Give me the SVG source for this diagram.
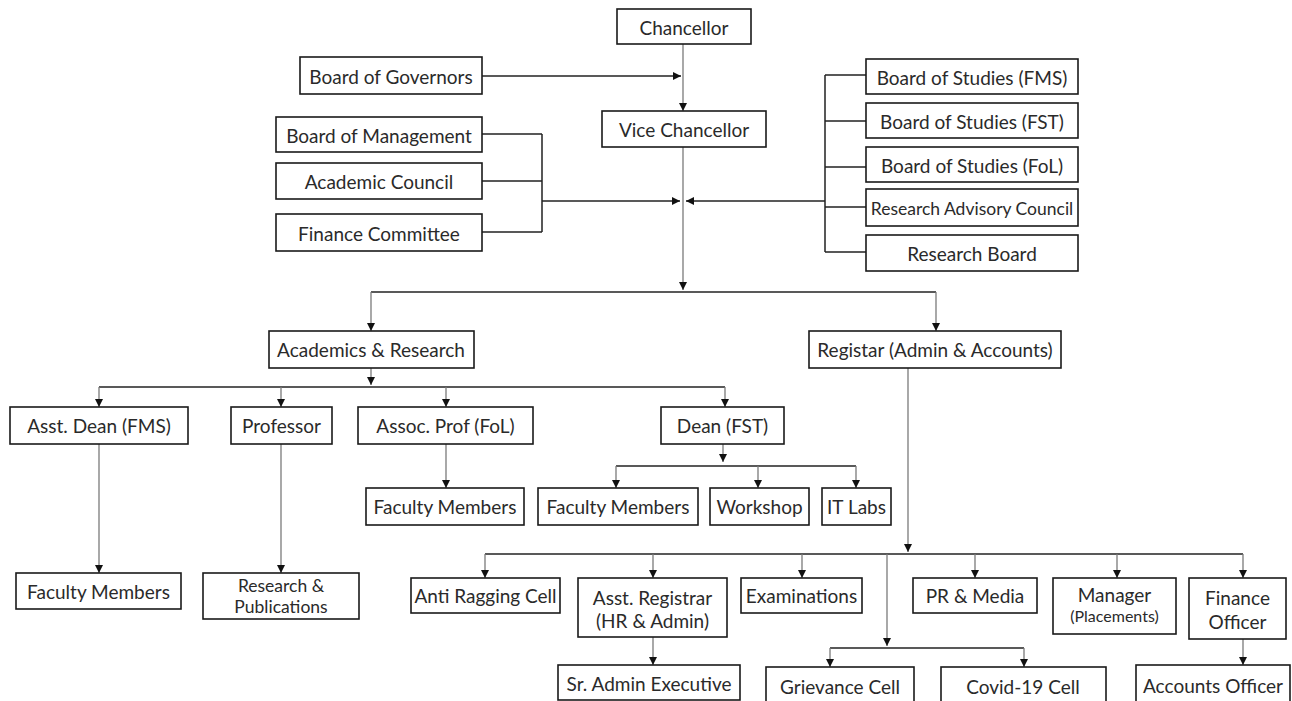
<svg xmlns="http://www.w3.org/2000/svg" width="1292" height="701" viewBox="0 0 1292 701">
<style>
.box{fill:#fff;stroke:#1a1a1a;stroke-width:1.6}
.t{font-family:"Lato","Open Sans","DejaVu Sans",sans-serif;font-size:19px;fill:#2a2a2a;text-anchor:middle;dominant-baseline:central}
.s{font-size:16px}
.m{font-size:17.5px}
.h{stroke:#222;stroke-width:1.5;fill:none}
.v{stroke:#7a7a7a;stroke-width:1.3;fill:none}
</style>
<defs>
<marker id="ah" viewBox="0 0 8 8" refX="8" refY="4" markerWidth="8" markerHeight="8" markerUnits="userSpaceOnUse" orient="auto">
<path d="M0,0 L8,4 L0,8 z" fill="#111"/>
</marker>
</defs>
<rect width="1292" height="701" fill="#fff"/>
<g id="connectors">
<path class="v" d="M683,44 V111" marker-end="url(#ah)"/>
<path class="h" d="M482,76 H681" marker-end="url(#ah)"/>
<path class="h" d="M482,134 H542 M482,181 H542 M482,232 H542 M542,134 V232"/>
<path class="h" d="M542,201 H680" marker-end="url(#ah)"/>
<path class="h" d="M866,75 H825 M866,121 H825 M866,167 H825 M866,207 H825 M866,252 H825 M825,75 V252"/>
<path class="h" d="M825,201 H686" marker-end="url(#ah)"/>
<path class="v" d="M683,147 V290" marker-end="url(#ah)"/>
<path class="h" d="M371,292 H936"/>
<path class="v" d="M371,292 V331" marker-end="url(#ah)"/>
<path class="v" d="M936,292 V331" marker-end="url(#ah)"/>
<path class="v" d="M371,368 V385" marker-end="url(#ah)"/>
<path class="h" d="M99,387 H725"/>
<path class="v" d="M99,387 V407" marker-end="url(#ah)"/>
<path class="v" d="M281,387 V407" marker-end="url(#ah)"/>
<path class="v" d="M446,387 V407" marker-end="url(#ah)"/>
<path class="v" d="M725,387 V407" marker-end="url(#ah)"/>
<path class="v" d="M446,444 V488" marker-end="url(#ah)"/>
<path class="v" d="M723,444 V462" marker-end="url(#ah)"/>
<path class="h" d="M616,466 H856"/>
<path class="v" d="M616,466 V488" marker-end="url(#ah)"/>
<path class="v" d="M758,466 V488" marker-end="url(#ah)"/>
<path class="v" d="M856,466 V488" marker-end="url(#ah)"/>
<path class="v" d="M99,444 V573" marker-end="url(#ah)"/>
<path class="v" d="M281,444 V573" marker-end="url(#ah)"/>
<path class="v" d="M908,368 V552" marker-end="url(#ah)"/>
<path class="h" d="M485,554 H1243"/>
<path class="v" d="M485,554 V578" marker-end="url(#ah)"/>
<path class="v" d="M653,554 V578" marker-end="url(#ah)"/>
<path class="v" d="M802,554 V578" marker-end="url(#ah)"/>
<path class="v" d="M975,554 V578" marker-end="url(#ah)"/>
<path class="v" d="M1117,554 V578" marker-end="url(#ah)"/>
<path class="v" d="M1243,554 V578" marker-end="url(#ah)"/>
<path class="v" d="M887,554 V646" marker-end="url(#ah)"/>
<path class="h" d="M830,648 H1024"/>
<path class="v" d="M830,648 V667" marker-end="url(#ah)"/>
<path class="v" d="M1024,648 V667" marker-end="url(#ah)"/>
<path class="v" d="M653,637 V665" marker-end="url(#ah)"/>
<path class="v" d="M1243,639 V665" marker-end="url(#ah)"/>
</g>
<g id="chancellor"><rect class="box" x="617" y="9" width="134" height="35"/><text class="t" x="684" y="27">Chancellor</text></g>
<g id="board-of-governors"><rect class="box" x="300" y="57" width="182" height="37"/><text class="t" x="391" y="76">Board of Governors</text></g>
<g id="vice-chancellor"><rect class="box" x="602" y="111" width="164" height="36"/><text class="t" x="684" y="129">Vice Chancellor</text></g>
<g id="board-of-management"><rect class="box" x="276" y="117" width="206" height="35"/><text class="t" x="379" y="135">Board of Management</text></g>
<g id="academic-council"><rect class="box" x="276" y="163" width="206" height="36"/><text class="t" x="379" y="181">Academic Council</text></g>
<g id="finance-committee"><rect class="box" x="276" y="214" width="206" height="37"/><text class="t" x="379" y="233">Finance Committee</text></g>
<g id="bos-fms"><rect class="box" x="866" y="59" width="212" height="35"/><text class="t" x="972" y="77">Board of Studies (FMS)</text></g>
<g id="bos-fst"><rect class="box" x="866" y="103" width="212" height="35"/><text class="t" x="972" y="121">Board of Studies (FST)</text></g>
<g id="bos-fol"><rect class="box" x="866" y="147" width="212" height="35"/><text class="t" x="972" y="165">Board of Studies (FoL)</text></g>
<g id="research-advisory-council"><rect class="box" x="866" y="189" width="212" height="37"/><text class="t m" x="972" y="208">Research Advisory Council</text></g>
<g id="research-board"><rect class="box" x="866" y="235" width="212" height="36"/><text class="t" x="972" y="253">Research Board</text></g>
<g id="academics-research"><rect class="box" x="269" y="331" width="205" height="37"/><text class="t" x="371" y="349.5">Academics &amp; Research</text></g>
<g id="registar"><rect class="box" x="809" y="331" width="252" height="37"/><text class="t" x="935" y="349.5">Registar (Admin &amp; Accounts)</text></g>
<g id="asst-dean-fms"><rect class="box" x="10" y="407" width="178" height="37"/><text class="t" x="99" y="425.5">Asst. Dean (FMS)</text></g>
<g id="professor"><rect class="box" x="231" y="407" width="101" height="37"/><text class="t" x="281.5" y="425.5">Professor</text></g>
<g id="assoc-prof-fol"><rect class="box" x="358" y="407" width="175" height="37"/><text class="t" x="445.5" y="425.5">Assoc. Prof (FoL)</text></g>
<g id="dean-fst"><rect class="box" x="661" y="407" width="123" height="37"/><text class="t" x="722.5" y="425.5">Dean (FST)</text></g>
<g id="faculty-members-fol"><rect class="box" x="366" y="488" width="158" height="37"/><text class="t" x="445" y="506.5">Faculty Members</text></g>
<g id="faculty-members-fst"><rect class="box" x="538" y="488" width="160" height="37"/><text class="t" x="618" y="506.5">Faculty Members</text></g>
<g id="workshop"><rect class="box" x="710" y="488" width="99" height="37"/><text class="t" x="759.5" y="506.5">Workshop</text></g>
<g id="it-labs"><rect class="box" x="822" y="488" width="69" height="37"/><text class="t" x="856.5" y="506.5">IT Labs</text></g>
<g id="faculty-members-fms"><rect class="box" x="16" y="573" width="165" height="36"/><text class="t" x="98.5" y="591">Faculty Members</text></g>
<g id="research-publications"><rect class="box" x="203" y="573" width="156" height="46"/><text class="t m" x="281" y="585">Research &amp;</text><text class="t m" x="281" y="606">Publications</text></g>
<g id="anti-ragging-cell"><rect class="box" x="411" y="578" width="149" height="35"/><text class="t" x="485.5" y="595.5">Anti Ragging Cell</text></g>
<g id="asst-registrar"><rect class="box" x="578" y="578" width="149" height="59"/><text class="t" x="652.5" y="597">Asst. Registrar</text><text class="t" x="652.5" y="620">(HR &amp; Admin)</text></g>
<g id="examinations"><rect class="box" x="741" y="578" width="121" height="35"/><text class="t" x="801.5" y="595.5">Examinations</text></g>
<g id="pr-media"><rect class="box" x="913" y="578" width="124" height="35"/><text class="t" x="975" y="595.5">PR &amp; Media</text></g>
<g id="manager-placements"><rect class="box" x="1053" y="578" width="123" height="56"/><text class="t" x="1114.5" y="594">Manager</text><text class="t s" x="1114.5" y="615">(Placements)</text></g>
<g id="finance-officer"><rect class="box" x="1189" y="578" width="97" height="61"/><text class="t" x="1237.5" y="597">Finance</text><text class="t" x="1237.5" y="621">Officer</text></g>
<g id="sr-admin-executive"><rect class="box" x="558" y="665" width="182" height="35"/><text class="t" x="649" y="683">Sr. Admin Executive</text></g>
<g id="grievance-cell"><rect class="box" x="766" y="667" width="148" height="44"/><text class="t" x="840" y="686">Grievance Cell</text></g>
<g id="covid-19-cell"><rect class="box" x="941" y="667" width="165" height="44"/><text class="t" x="1023" y="686">Covid-19 Cell</text></g>
<g id="accounts-officer"><rect class="box" x="1136" y="665" width="154" height="46"/><text class="t" x="1213" y="685">Accounts Officer</text></g>
</svg>
